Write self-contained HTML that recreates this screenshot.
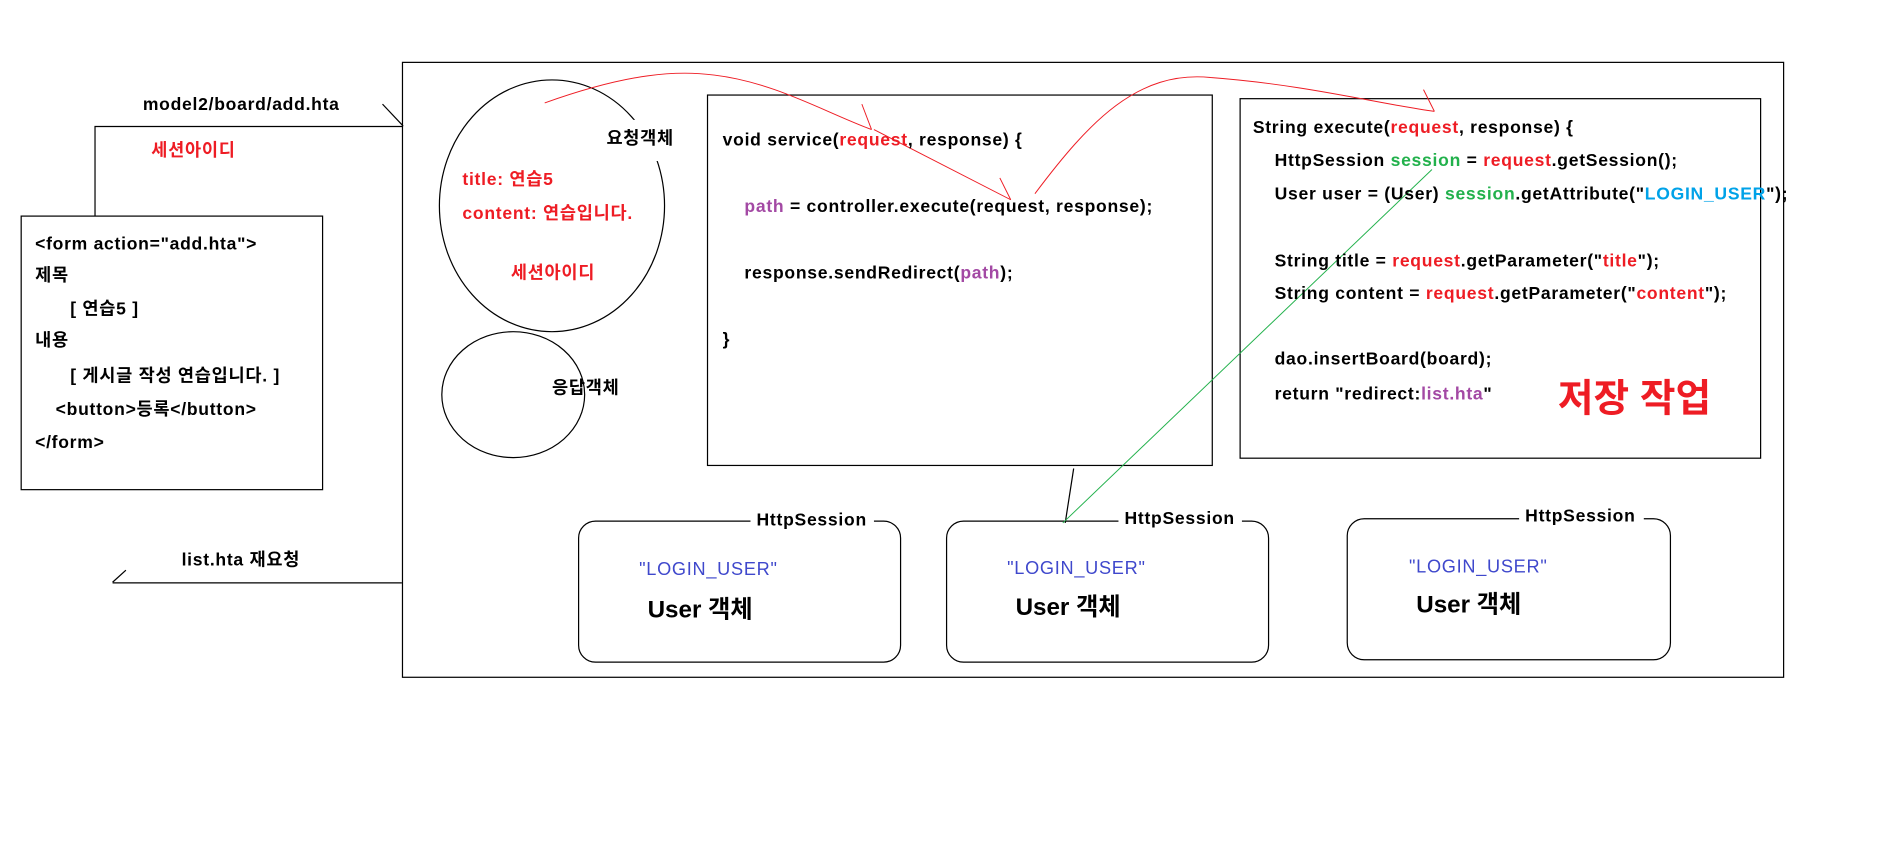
<!DOCTYPE html>
<html><head><meta charset="utf-8"><style>
html,body{margin:0;padding:0;background:#fff;width:1898px;height:859px;overflow:hidden}
svg text{font-family:"Liberation Sans","Noto Sans CJK KR",sans-serif;font-weight:bold;font-size:14.5px;letter-spacing:0.6px;fill:#000}
.r{fill:#ee1c24}.p{fill:#a349a4}.g{fill:#22b14c}.b{fill:#00a2e8}.bl{fill:#3f48cc}
</style></head><body>
<svg width="1898" height="859" viewBox="0 0 1568 709.6" xmlns="http://www.w3.org/2000/svg">
<g fill="none" stroke="#000" stroke-width="1">
<rect x="332.5" y="51.5" width="1141" height="508"/>
<rect x="17.5" y="178.5" width="249" height="226"/>
<rect x="584.5" y="78.5" width="417" height="306"/>
<rect x="1024.5" y="81.5" width="430" height="297"/>
<polyline points="78.5,178 78.5,104.5 333,104.5"/>
<line x1="316" y1="86" x2="333" y2="104"/>
<line x1="93" y1="481.5" x2="332" y2="481.5"/>
<line x1="93" y1="481" x2="104" y2="471"/>
<ellipse cx="456" cy="170" rx="93" ry="104"/>
<ellipse cx="424" cy="326" rx="59" ry="52"/>
<line x1="887" y1="387" x2="880" y2="432"/>
<path d="M620 430.5 H492 a14 14 0 0 0 -14 14 V533 a14 14 0 0 0 14 14 H730 a14 14 0 0 0 14 -14 V444.5 a14 14 0 0 0 -14 -14 H722"/>
<path d="M924 430.5 H796 a14 14 0 0 0 -14 14 V533 a14 14 0 0 0 14 14 H1034 a14 14 0 0 0 14 -14 V444.5 a14 14 0 0 0 -14 -14 H1026"/>
<path d="M1255 428.5 H1127 a14 14 0 0 0 -14 14 V531 a14 14 0 0 0 14 14 H1366 a14 14 0 0 0 14 -14 V442.5 a14 14 0 0 0 -14 -14 H1358"/>
</g>
<rect x="496" y="99" width="72" height="34" fill="#fff"/>
<g fill="none" stroke="#ee1c24" stroke-width="0.8">
<path d="M450 85 C520 60 560 58 590 62 C640 68 680 92 720 107"/>
<line x1="720" y1="107" x2="712" y2="86"/>
<line x1="722" y1="107" x2="835" y2="165"/>
<line x1="835" y1="165" x2="826" y2="147"/>
<path d="M855 160 C900 100 940 58 1000 64 C1080 70 1140 86 1185 92"/>
<line x1="1185" y1="92" x2="1176" y2="74"/>
</g>
<line x1="1183" y1="140" x2="878" y2="432" stroke="#22b14c" stroke-width="0.8"/>
<text x="118" y="91">model2/board/add.hta</text>
<text x="125" y="129" class="r">세션아이디</text>
<text x="29" y="206">&lt;form action="add.hta"&gt;</text>
<text x="29" y="232">제목</text>
<text x="58" y="260">[ 연습5 ]</text>
<text x="29" y="286">내용</text>
<text x="58" y="315">[ 게시글 작성 연습입니다. ]</text>
<text x="46" y="343">&lt;button&gt;등록&lt;/button&gt;</text>
<text x="29" y="370">&lt;/form&gt;</text>
<text x="150" y="467">list.hta 재요청</text>
<text x="501" y="119">요청객체</text>
<text x="382" y="153" class="r">title: 연습5</text>
<text x="382" y="181" class="r">content: 연습입니다.</text>
<text x="422" y="230" class="r">세션아이디</text>
<text x="456" y="325">응답객체</text>
<text x="597" y="120">void service(<tspan class="r">request</tspan>, response) {</text>
<text x="615" y="175"><tspan class="p">path</tspan> = controller.execute(request, response);</text>
<text x="615" y="230">response.sendRedirect(<tspan class="p">path</tspan>);</text>
<text x="597" y="285">}</text>
<text x="1035" y="110">String execute(<tspan class="r">request</tspan>, response) {</text>
<text x="1053" y="137">HttpSession <tspan class="g">session</tspan> = <tspan class="r">request</tspan>.getSession();</text>
<text x="1053" y="165">User user = (User) <tspan class="g">session</tspan>.getAttribute("<tspan class="b">LOGIN_USER</tspan>");</text>
<text x="1053" y="220">String title = <tspan class="r">request</tspan>.getParameter("<tspan class="r">title</tspan>");</text>
<text x="1053" y="247">String content = <tspan class="r">request</tspan>.getParameter("<tspan class="r">content</tspan>");</text>
<text x="1053" y="301">dao.insertBoard(board);</text>
<text x="1053" y="330">return "redirect:<tspan class="p">list.hta</tspan>"</text>
<text x="1287" y="340" class="r" style="font-size:32px;letter-spacing:0">저장 작업</text>
<text x="625" y="434">HttpSession</text>
<text x="929" y="433">HttpSession</text>
<text x="1260" y="431">HttpSession</text>
<text x="528" y="475" class="bl" style="font-weight:normal;font-size:15px">"LOGIN_USER"</text>
<text x="832" y="474" class="bl" style="font-weight:normal;font-size:15px">"LOGIN_USER"</text>
<text x="1164" y="473" class="bl" style="font-weight:normal;font-size:15px">"LOGIN_USER"</text>
<text x="535" y="510" style="font-size:20px;letter-spacing:0">User 객체</text>
<text x="839" y="508" style="font-size:20px;letter-spacing:0">User 객체</text>
<text x="1170" y="506" style="font-size:20px;letter-spacing:0">User 객체</text>
</svg>
</body></html>
